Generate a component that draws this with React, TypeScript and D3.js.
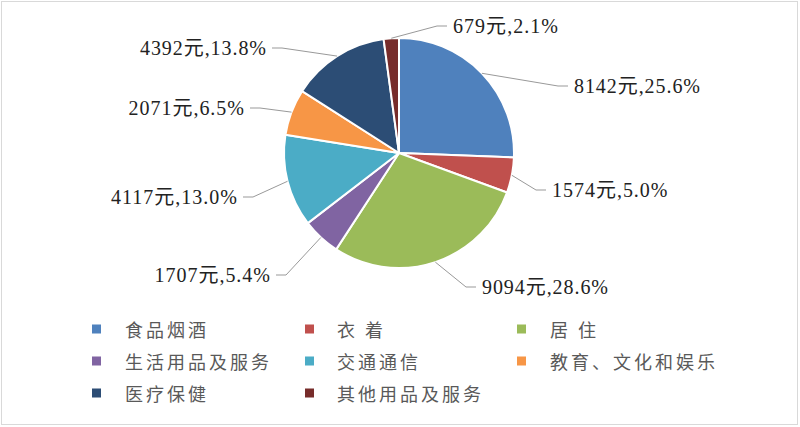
import React from "react";
import * as d3 from "d3";

const categories = ["食品烟酒", "衣 着", "居 住", "生活用品及服务", "交通通信", "教育、文化和娱乐", "医疗保健", "其他用品及服务"];
const values = [8142, 1574, 9094, 1707, 4117, 2071, 4392, 679];
const percents = ["25.6%", "5.0%", "28.6%", "5.4%", "13.0%", "6.5%", "13.8%", "2.1%"];
const colors = ["#4F81BD", "#C0504D", "#9BBB59", "#8064A2", "#4BACC6", "#F79646", "#2C4D75", "#772C2A"];

// label layout (text anchor edge and vertical centre)
const labelLayout = [
  { x: 574, y: 86, side: 1 },
  { x: 552, y: 190, side: 1 },
  { x: 482, y: 287, side: 1 },
  { x: 270, y: 275, side: -1 },
  { x: 237, y: 197, side: -1 },
  { x: 244, y: 108, side: -1 },
  { x: 266, y: 48, side: -1 },
  { x: 453, y: 26, side: 1 },
];

const W = 800;
const H = 427;
const cx = 399;
const cy = 153;
const R = 115;

function units(s: string) {
  let n = 0;
  for (const ch of s) n += /[\u3000-\u9fff]/.test(ch) ? 2 : 1;
  return n;
}

export default function App() {
  const pie = d3.pie<number>().sort(null).startAngle(0).endAngle(Math.PI * 2);
  const arcs = pie(values);
  const arcGen = d3.arc<d3.PieArcDatum<number>>().innerRadius(0).outerRadius(R);
  const edgeGen = d3.arc<d3.PieArcDatum<number>>().innerRadius(R).outerRadius(R);

  const legendColX = [92, 305, 517];
  const legendTextX = [125, 337, 550];
  const legendRowY = [329, 361, 393];

  return (
    <div style={{ position: "fixed", left: 0, top: 0 }}>
      <svg width={W} height={H} style={{ display: "block", background: "#fff" }}>
        <rect x={1.5} y={1.5} width={796} height={423} fill="#fff" stroke="#d9d9d9" strokeWidth={1} />
        <g transform={`translate(${cx},${cy})`}>
          {arcs.map((a, i) => (
            <path key={i} d={arcGen(a) || ""} fill={colors[i]} stroke="#fff" strokeWidth={2} strokeLinejoin="round" />
          ))}
        </g>
        {arcs.map((a, i) => {
          const [px, py] = edgeGen.centroid(a);
          const sx = cx + px;
          const sy = cy + py;
          const L = labelLayout[i];
          const ex = L.x - L.side * 6;
          const elx = ex - L.side * 10;
          const text = `${values[i]}元,${percents[i]}`;
          return (
            <g key={i}>
              <polyline points={`${sx},${sy} ${elx},${L.y} ${ex},${L.y}`} fill="none" stroke="#999" strokeWidth={1} />
              <text
                x={L.x}
                y={L.y}
                textAnchor={L.side > 0 ? "start" : "end"}
                dominantBaseline="central"
                style={{ fontFamily: "'Liberation Serif', 'DejaVu Serif', 'Noto Sans CJK SC', serif", fontSize: "20px" }}
                fill="#222"
                textLength={units(text) * 10.5}
                lengthAdjust="spacing"
              >
                {text}
              </text>
            </g>
          );
        })}
        {categories.map((c, i) => {
          const col = i % 3;
          const row = Math.floor(i / 3);
          const y = legendRowY[row];
          return (
            <g key={i}>
              <rect x={legendColX[col]} y={y - 4.5} width={9} height={9} fill={colors[i]} />
              <text
                x={legendTextX[col]}
                y={y}
                dominantBaseline="central"
                style={{ fontFamily: "'Noto Sans CJK SC', sans-serif", fontSize: "18px", letterSpacing: "3px", whiteSpace: "pre" }}
                fill="#595959"
              >
                {c}
              </text>
            </g>
          );
        })}
      </svg>
    </div>
  );
}
